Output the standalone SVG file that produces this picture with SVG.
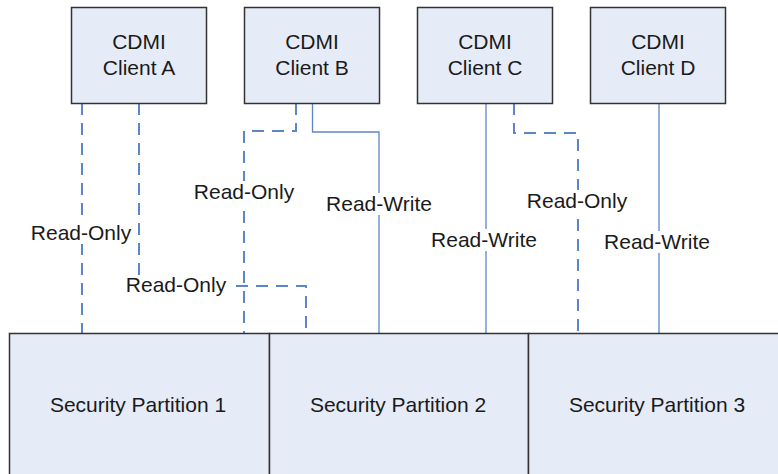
<svg xmlns="http://www.w3.org/2000/svg" width="778" height="474" viewBox="0 0 778 474">
<style>
.box{fill:#E6ECF7;stroke:#333;stroke-width:1.5}
.t{font-family:"Liberation Sans",Arial,sans-serif;font-size:21px;fill:#1a1a1a;text-anchor:middle}
.solid{fill:none;stroke:#5B87C8;stroke-width:1.3}
.dash{fill:none;stroke:#5B87C8;stroke-width:2;stroke-dasharray:12 8}
.bg{fill:#fff}
</style>
<rect width="778" height="474" fill="#fff"/>
<g id="connectors">
<path class="dash" d="M82 103V333"/>
<path class="dash" d="M139 103V286H306V333"/>
<path class="dash" d="M296 103V131H244V333"/>
<path class="solid" d="M312.5 103V132H379V333"/>
<path class="solid" d="M486 103V333"/>
<path class="dash" d="M514 103V133H578V333"/>
<path class="solid" d="M659 103V333"/>
<g id="labels">
<rect class="bg" x="29" y="222" width="104" height="22"/><text class="t" x="81" y="240">Read-Only</text>
<rect class="bg" x="124" y="275" width="112" height="22"/><text class="t" x="176" y="292">Read-Only</text>
<rect class="bg" x="192" y="181" width="104" height="22"/><text class="t" x="244" y="199">Read-Only</text>
<rect class="bg" x="324" y="193" width="110" height="22"/><text class="t" x="379" y="211">Read-Write</text>
<rect class="bg" x="429" y="229" width="110" height="22"/><text class="t" x="484" y="247">Read-Write</text>
<rect class="bg" x="525" y="190" width="104" height="22"/><text class="t" x="577" y="208">Read-Only</text>
<rect class="bg" x="602" y="231" width="110" height="22"/><text class="t" x="657" y="249">Read-Write</text>
</g>
</g>
<g id="clientA"><rect class="box" x="71.5" y="7.5" width="135" height="96"/><text class="t" x="139" y="49">CDMI</text><text class="t" x="139" y="75">Client A</text></g>
<g id="clientB"><rect class="box" x="244.5" y="7.5" width="135" height="96"/><text class="t" x="312" y="49">CDMI</text><text class="t" x="312" y="75">Client B</text></g>
<g id="clientC"><rect class="box" x="417.5" y="7.5" width="135" height="96"/><text class="t" x="485" y="49">CDMI</text><text class="t" x="485" y="75">Client C</text></g>
<g id="clientD"><rect class="box" x="590.5" y="7.5" width="135" height="96"/><text class="t" x="658" y="49">CDMI</text><text class="t" x="658" y="75">Client D</text></g>
<g id="partition1"><rect class="box" x="9.5" y="333.5" width="260" height="160"/><text class="t" x="138" y="412">Security Partition 1</text></g>
<g id="partition2"><rect class="box" x="269.5" y="333.5" width="259" height="160"/><text class="t" x="398" y="412">Security Partition 2</text></g>
<g id="partition3"><rect class="box" x="528.5" y="333.5" width="260" height="160"/><text class="t" x="657" y="412">Security Partition 3</text></g>
</svg>
